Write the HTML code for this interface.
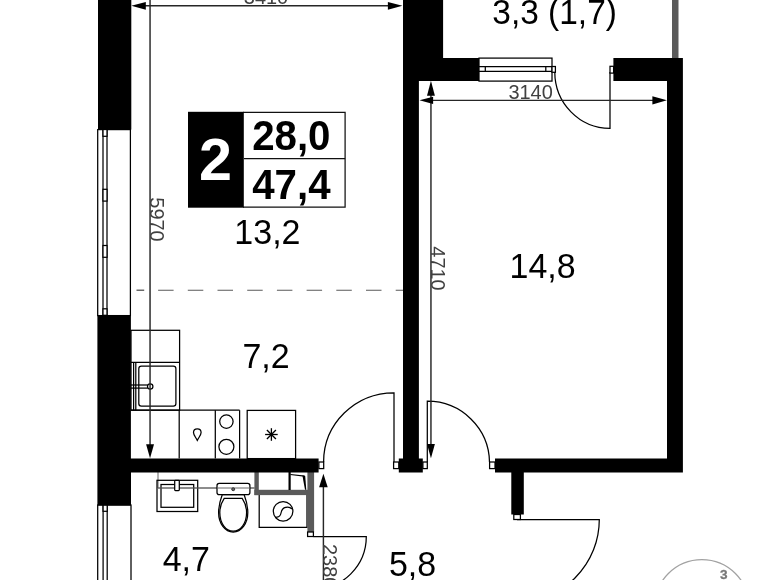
<!DOCTYPE html>
<html lang="ru">
<head>
<meta charset="utf-8">
<title>План квартиры</title>
<style>
html,body{margin:0;padding:0;background:#fff;}
body{width:780px;height:580px;overflow:hidden;position:relative;}
svg{display:block;position:absolute;left:0;top:0;}
svg{will-change:transform;}
text{font-family:"Liberation Sans","DejaVu Sans",sans-serif;}
.area{font-size:35.6px;fill:#000;}
.dim{font-size:20.8px;fill:#404040;}
.b{font-weight:bold;}
.ln{stroke:#222;stroke-width:1.25;fill:none;}
.thin{stroke:#000;stroke-width:1.25;fill:none;}
.fx{stroke:#000;stroke-width:1.25;fill:#fff;}
</style>
</head>
<body>
<svg width="780" height="580" viewBox="0 0 780 580">
<rect width="780" height="580" fill="#fff"/>

<!-- windows -->
<g class="thin">
  <rect x="97.7" y="129.6" width="32.7" height="186" fill="#fff"/>
  <line x1="103" y1="129" x2="103" y2="316"/>
  <line x1="107" y1="129" x2="107" y2="316"/>
  <rect x="103" y="129.5" width="4" height="6.8" fill="#fff"/>
  <rect x="103" y="189.3" width="4" height="11.8" fill="#fff"/>
  <rect x="103" y="245.5" width="4" height="11.8" fill="#fff"/>
  <rect x="103" y="308.8" width="4" height="6.5" fill="#fff"/>

  <rect x="97.7" y="505" width="33.3" height="90" fill="#fff"/>
  <line x1="103.1" y1="504" x2="103.1" y2="590"/>
  <line x1="107.2" y1="504" x2="107.2" y2="590"/>
  <rect x="103.1" y="505" width="4.1" height="6.3" fill="#fff"/>

  <rect x="479" y="58.1" width="73" height="23" fill="#fff"/>
  <line x1="479" y1="66.5" x2="552" y2="66.5"/>
  <line x1="479" y1="71.4" x2="552" y2="71.4"/>
  <line x1="485.3" y1="66.5" x2="485.3" y2="71.4"/>
  <line x1="545.8" y1="66.5" x2="545.8" y2="71.4"/>
  <rect x="552" y="66.5" width="3.4" height="5.8" fill="#fff"/>
</g>

<!-- dashed zone line -->
<line x1="158.1" y1="290.2" x2="403" y2="290.2" stroke="#5a5a5a" stroke-width="1.1" stroke-dasharray="15.5 14.2"/>
<line x1="136.5" y1="290.2" x2="144.2" y2="290.2" stroke="#444" stroke-width="1.2"/>

<!-- kitchen fixtures -->
<g class="thin">
  <rect x="131" y="330.3" width="48.6" height="79.9"/>
  <line x1="131" y1="362.3" x2="179.6" y2="362.3"/>
  <line x1="133.6" y1="362.3" x2="133.6" y2="410.2"/>
  <line x1="135.8" y1="362.3" x2="135.8" y2="410.2"/>
  <rect x="138.8" y="366.2" width="37.1" height="40" rx="2.6" ry="2.6"/>
  <line x1="131" y1="385" x2="147.6" y2="385"/>
  <line x1="131" y1="388.1" x2="147.6" y2="388.1"/>
  <circle cx="150.2" cy="386.5" r="2.7" fill="#fff"/>
  <line x1="131" y1="410.2" x2="239.6" y2="410.2"/>
  <line x1="179.2" y1="410.2" x2="179.2" y2="458.5"/>
  <line x1="215.3" y1="410.2" x2="215.3" y2="458.5"/>
  <line x1="239.6" y1="410.2" x2="239.6" y2="458.5"/>
  <circle cx="226.4" cy="421.6" r="6.7"/>
  <circle cx="226.4" cy="446.8" r="7.5"/>
  <path d="M197.3 440.4 C195.6 437 193.5 435 193.5 432.6 C193.5 430.3 195.2 428.8 197.3 428.8 C199.4 428.8 201.1 430.3 201.1 432.6 C201.1 435 199 437 197.3 440.4 Z"/>
  <rect x="247.2" y="410.4" width="48.4" height="48.2"/>
  <g stroke-width="1.3">
  <line x1="271.4" y1="428.2" x2="271.4" y2="440.8"/>
  <line x1="265.1" y1="434.5" x2="277.7" y2="434.5"/>
  <line x1="266.9" y1="430" x2="275.9" y2="439"/>
  <line x1="266.9" y1="439" x2="275.9" y2="430"/>
  </g>
</g>

<!-- bathroom fixtures -->
<g>
  <path d="M158 472 V488 H254.5" fill="none" stroke="#666" stroke-width="1"/>
  <rect class="thin" x="157" y="480.3" width="40.7" height="31.2"/>
  <rect class="thin" x="161" y="484.5" width="32.7" height="22.8"/>
  <path d="M158 488 H254.5" fill="none" stroke="#666" stroke-width="1"/>
  <rect class="fx" x="174.7" y="480.3" width="4.6" height="10.3" rx="0.8"/>
  <!-- toilet -->
  <path class="fx" d="M222.3 494.5 C219.5 502 218.6 507 218.6 512.5 C218.6 523.5 225 532 233.2 532 C241.4 532 247.8 523.5 247.8 512.5 C247.8 507 246.9 502 244.1 494.5 Z"/>
  <path class="thin" d="M224.2 498.4 H242.2 C245.4 503 246.6 508 246.6 512.5 C246.6 523 240.8 531.2 233.2 531.2 C225.6 531.2 219.8 523 219.8 512.5 C219.8 508 221 503 224.2 498.4 Z" stroke-width="1"/>
  <rect class="fx" x="217" y="483.4" width="32.9" height="11.2" rx="2.2"/>
  <path d="M217 488 H250" fill="none" stroke="#666" stroke-width="1"/>
  <circle cx="233.2" cy="489.2" r="1.5" fill="#666" stroke="#222" stroke-width="0.8"/>
  <!-- washing machine -->
  <path class="thin" d="M259.2 494 V527.4 H307 V494"/>
  <circle class="thin" cx="283.1" cy="511.3" r="9.8"/>
  <path class="thin" d="M275.4 517.4 C277.2 516.6 280.2 518 281 513 C281.7 508.8 284.6 507.2 287.6 507.2 C289.4 507.2 290.8 507.8 292 509"/>
</g>

<!-- gray partitions -->
<g fill="#5a5a5a">
  <rect x="254.4" y="472" width="4.4" height="23.1"/>
  <rect x="254.4" y="489.8" width="59.6" height="5.3"/>
  <rect x="307.4" y="472" width="6.7" height="60.2"/>
  <rect x="672" y="-2" width="6.5" height="61"/>
</g>
<g>
  <rect x="288.5" y="472" width="2.2" height="18" fill="#000"/>
  <path d="M290.4 474.5 L304.6 476.2" stroke="#000" stroke-width="1.2" fill="none"/>
  <path d="M302.4 475.6 L305.2 476 L306.3 489.8 L305 489.8 Z" fill="#000"/>
</g>

<!-- doors -->
<g class="thin">
  <path d="M394 462 V392.8 A70.4 69.2 0 0 0 323.6 462"/>
  <path d="M427.3 462 V401.2 A62.2 61.8 0 0 1 489.5 462"/>
  <path d="M610 72 V128.4 A55.2 56.4 0 0 1 554.8 72"/>
  <path d="M313.5 536.5 H366.3 A52.8 52.8 0 0 1 313.5 589.3"/>
  <path d="M517 519.5 H599.3 A82.3 82.3 0 0 1 517 601.8"/>
  <rect x="318.9" y="462" width="4.8" height="6.6" fill="#fff"/>
  <rect x="393.6" y="462" width="5.2" height="6.6" fill="#fff"/>
  <rect x="422.9" y="462" width="4.4" height="6.6" fill="#fff"/>
  <rect x="489.6" y="462" width="5.4" height="6.6" fill="#fff"/>
  <rect x="610" y="66.3" width="3.6" height="6.8" fill="#fff"/>
  <rect x="307.6" y="532" width="5.8" height="4.5" fill="#fff"/>
  <rect x="513.8" y="514.5" width="6.6" height="5" fill="#fff"/>
</g>

<!-- walls -->
<g fill="#000">
  <rect x="98" y="-2" width="33.3" height="131.6"/>
  <path d="M97.4 315 H130.9 V458.6 H318.6 V472.6 H131 V505.4 H97.4 Z"/>
  <path d="M403 -2 H443.1 V58.1 H479 V81 H418.9 V458.5 H422.8 V472.6 H398.8 V458.5 H403 Z"/>
  <path d="M613.4 58.1 H682.9 V472.6 H523.8 V514.5 H511.3 V472.6 H495 V458.6 H667 V80.9 H613.4 Z"/>
</g>

<!-- dimension lines -->
<g stroke="#262626" stroke-width="1.45" fill="none">
  <line x1="145" y1="5.77" x2="389" y2="5.77"/>
  <line x1="150.05" y1="0" x2="150.05" y2="445"/>
  <line x1="433" y1="100.35" x2="653" y2="100.35"/>
  <line x1="430.95" y1="95" x2="430.95" y2="444.5"/>
  <line x1="323.4" y1="486.5" x2="323.4" y2="580"/>
</g>
<g fill="#000">
  <path d="M131.3 5.77 L145.8 1.9 L145.8 9.65 Z"/>
  <path d="M402.4 5.77 L387.9 1.9 L387.9 9.65 Z"/>
  <path d="M150.05 458.3 L146.1 444.3 L154 444.3 Z"/>
  <path d="M419.5 100.35 L433.1 96.7 L433.1 104 Z"/>
  <path d="M666.9 100.35 L652.4 96.3 L652.4 104.4 Z"/>
  <path d="M430.95 80.8 L427 95.7 L434.9 95.7 Z"/>
  <path d="M430.95 458.2 L427 444 L434.9 444 Z"/>
  <path d="M323.4 473.8 L319.1 487.2 L327.7 487.2 Z"/>
</g>

<g class="txt">
<!-- label box -->
<path d="M243 112.4 H345.1 V207.1 H243" fill="#fff" stroke="#111" stroke-width="1.25"/>
<line x1="244" y1="158.6" x2="345.1" y2="158.6" stroke="#111" stroke-width="1.25"/>
<rect x="188" y="111.8" width="55.8" height="95.9" fill="#000"/>
<text transform="translate(215.5 180.1)" text-anchor="middle" class="b" style="font-size:59.3px" fill="#fff">2</text>
<text transform="translate(291.3 149.5) scale(0.945 1)" text-anchor="middle" class="b" style="font-size:42.6px" fill="#000">28,0</text>
<text transform="translate(291.4 198.6) scale(0.945 1)" text-anchor="middle" class="b" style="font-size:42.6px" fill="#000">47,4</text>

<!-- area labels -->
<text class="area" transform="translate(267.4 243.6) scale(0.955 1)" text-anchor="middle">13,2</text>
<text class="area" transform="translate(266 367.9) scale(0.955 1)" text-anchor="middle">7,2</text>
<text class="area" transform="translate(542.6 278.2) scale(0.955 1)" text-anchor="middle">14,8</text>
<text class="area" transform="translate(554.6 23.6) scale(0.94 1)" text-anchor="middle">3,3 (1,7)</text>
<text class="area" transform="translate(186.3 570.6) scale(0.955 1)" text-anchor="middle">4,7</text>
<text class="area" transform="translate(412.5 575.6) scale(0.955 1)" text-anchor="middle">5,8</text>

<!-- dimension texts -->
<text class="dim" transform="translate(266 4.1) scale(0.96 1)" text-anchor="middle">3410</text>
<text class="dim" transform="translate(530.6 99.1) scale(0.96 1)" text-anchor="middle">3140</text>
<text class="dim" transform="translate(149.8 219.5) rotate(90) scale(0.96 1)" text-anchor="middle">5970</text>
<text class="dim" transform="translate(430.7 268.5) rotate(90) scale(0.96 1)" text-anchor="middle">4710</text>
<text class="dim" transform="translate(322.7 566.2) rotate(90) scale(0.96 1)" text-anchor="middle">2380</text>
</g>
<!-- corner badge -->
<circle cx="701.9" cy="607.1" r="47.4" fill="none" stroke="#a2a2a2" stroke-width="1.3"/>
<text x="723.8" y="579" text-anchor="middle" class="b" style="font-size:13.6px" fill="#777" stroke="#777" stroke-width="0.3">3</text>
</svg>
</body>
</html>
